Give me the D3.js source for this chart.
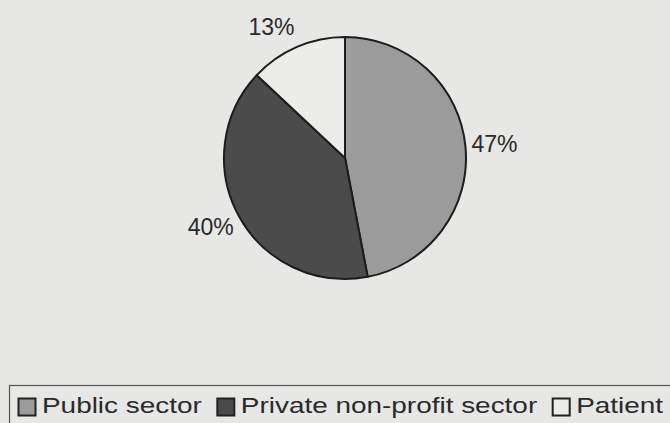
<!DOCTYPE html>
<html>
<head>
<meta charset="utf-8">
<script src="https://cdn.jsdelivr.net/npm/d3@7/dist/d3.min.js"></script>
<style>
  html, body { margin: 0; padding: 0; background: #e7e7e5; }
  svg { display: block; font-family: "Liberation Sans", Arial, sans-serif; }
</style>
</head>
<body>
<svg id="chart" width="670" height="423"></svg>
<script>
// Funding shares by source
const categories = ["Public sector", "Private non-profit sector", "Patient"];
const shares = [47, 40, 13];
const labels = ["47%", "40%", "13%"];
const fills = ["#9b9b9b", "#4b4b4b", "#ececeb"];

const svg = d3.select("#chart");
const W = 670, H = 423;
const cx = 345, cy = 158, R = 121;

svg.append("rect").attr("width", W).attr("height", H).attr("fill", "#e7e7e5");

const pie = d3.pie().sort(null).value(d => d.v);
const arcs = pie(categories.map((c, i) => ({ c, v: shares[i], i })));
const arc = d3.arc().innerRadius(0).outerRadius(R);

const g = svg.append("g").attr("transform", `translate(${cx},${cy})`);
g.selectAll("path.slice")
  .data(arcs)
  .join("path")
  .attr("class", "slice")
  .attr("d", arc)
  .attr("fill", d => fills[d.data.i])
  .attr("stroke", "#1c1c1c")
  .attr("stroke-width", 2)
  .attr("stroke-linejoin", "round");

// Percentage labels placed just outside the rim
const labelR = 127;
const fs = 23;
g.selectAll("text.pct")
  .data(arcs)
  .join("text")
  .attr("class", "pct")
  .attr("font-size", fs)
  .attr("fill", "#2a2a2a")
  .text(d => labels[d.data.i])
  .each(function (d) {
    const a = (d.startAngle + d.endAngle) / 2;
    const s = Math.sin(a), c = Math.cos(a);
    const px = labelR * s, py = -labelR * c;
    const w = this.getComputedTextLength();
    const h = fs * 0.68;
    const bx = px + (w / 2) * Math.sign(s);
    const by = py - h * c;
    d3.select(this)
      .attr("text-anchor", "middle")
      .attr("x", bx)
      .attr("y", by + h / 2);
  });

// Legend
const lg = svg.append("g");
lg.append("rect")
  .attr("x", 9.5).attr("y", 385.5)
  .attr("width", 700).attr("height", 60)
  .attr("fill", "none")
  .attr("stroke", "#555")
  .attr("stroke-width", 1.2);

const sw = 17, swY = 398, textY = 413, stretch = 1.27, lfs = 22;
let x = 18;
categories.forEach((c, i) => {
  lg.append("rect")
    .attr("x", x + 0.5).attr("y", swY + 0.5)
    .attr("width", sw).attr("height", sw)
    .attr("fill", fills[i])
    .attr("stroke", "#222")
    .attr("stroke-width", 2);
  const tx = x + sw + 7;
  const t = lg.append("text")
    .attr("font-size", lfs)
    .attr("fill", "#2a2a2a")
    .attr("transform", `translate(${tx},${textY}) scale(${stretch},1)`)
    .text(c);
  const tw = t.node().getComputedTextLength() * stretch;
  x = tx + tw + 15;
});
</script>
</body>
</html>
